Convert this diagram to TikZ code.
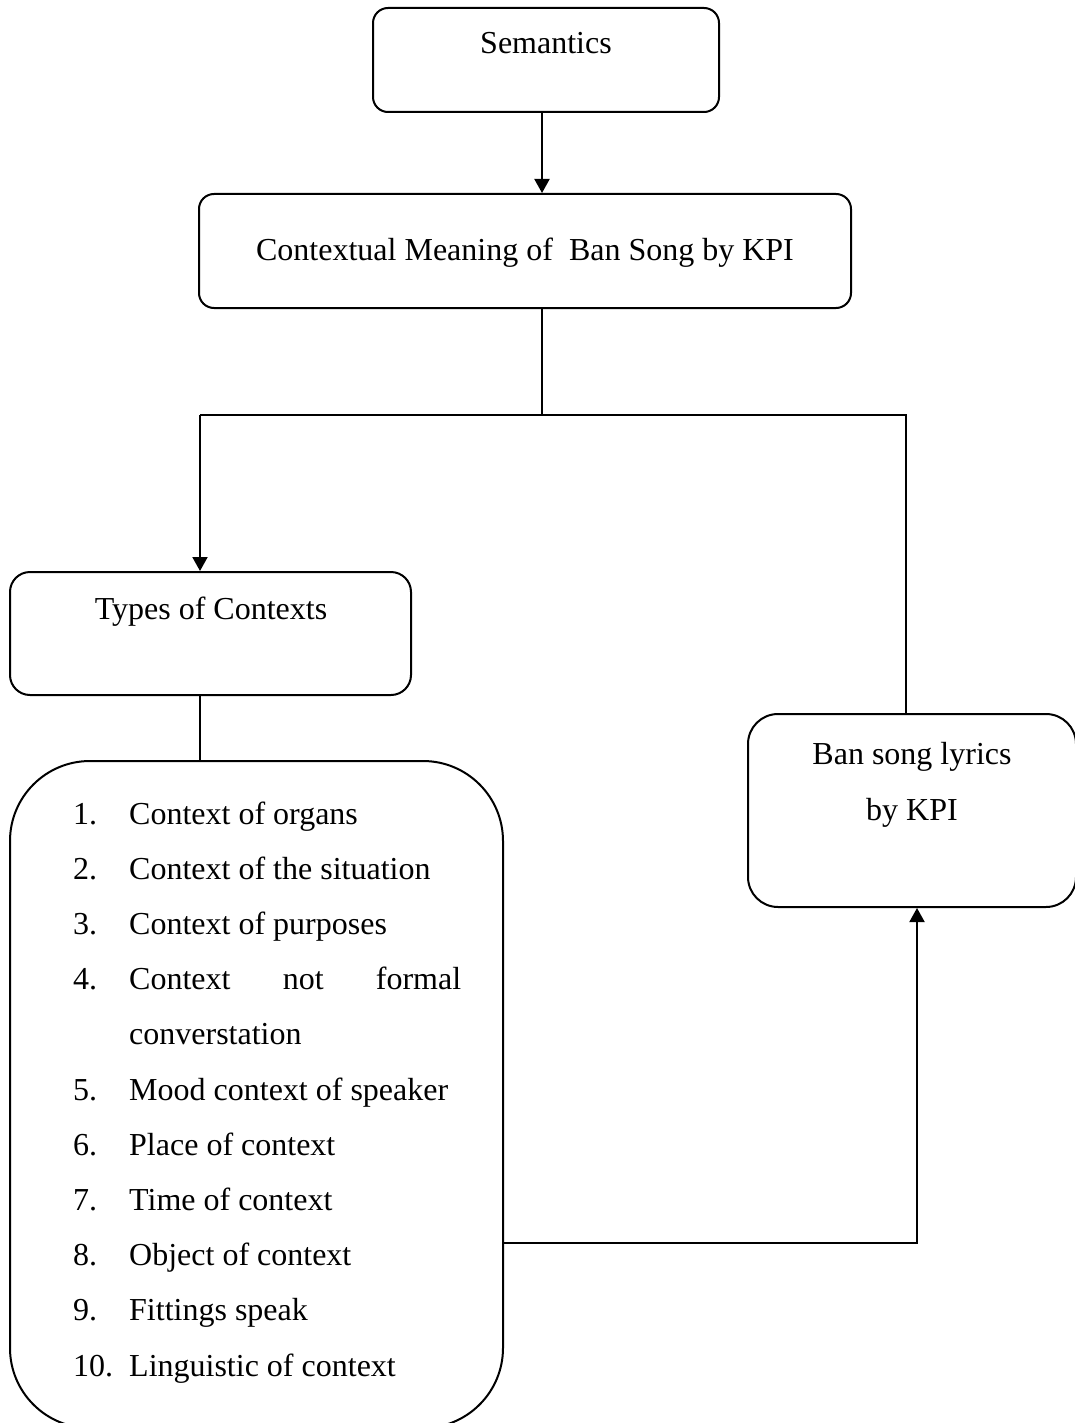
\documentclass[tikz,border=0pt]{standalone}
\usepackage{fontspec}
\setmainfont{Liberation Serif}
\usetikzlibrary{arrows.meta,positioning}
\tikzset{
	box/.style={draw, line width=2pt, rounded corners=#1, inner sep=0pt},
	box/.default=15pt,
	txt/.style={font=\fontsize{32}{38}\selectfont, anchor=base, inner sep=0pt},
	link/.style={line width=2pt},
	arr/.style={line width=2pt, -{Triangle[length=14pt,width=15pt]}}
}

\begin{document}
\begin{tikzpicture}[x=1pt,y=-1pt]
	\useasboundingbox (0,0) rectangle (1075,1423);

	\node[box, minimum width=346pt, minimum height=104pt] (sem) at (546,60) {};
	\node[txt] (semtxt) at (546,54) {Semantics};

	\node[box, minimum width=652pt, minimum height=114pt] (ctx) at (525,251) {};
	\node[txt] (ctxtxt) at (525,261) {Contextual Meaning of\ \ Ban Song by KPI};

	\node[box=20pt, minimum width=401pt, minimum height=123pt] (types) at (210.5,633.5) {};
	\node[txt] (typestxt) at (211,619) {Types of Contexts};

	\node[box=30pt, minimum width=328pt, minimum height=193pt] (ban) at (912,810.5) {};
	\node[txt] (bantxt) at (912,764) {Ban song lyrics};
	\node[txt] (bantxtb) at (912,820) {by KPI};

	\node[box=80pt, minimum width=493pt, minimum height=667pt] (list) at (256.5,1094.5) {};

	\foreach \n/\k/\t in {1/0/Context of organs, 2/1/Context of the situation,
		3/2/Context of purposes, 5/5/Mood context of speaker, 6/6/Place of context,
		7/7/Time of context, 8/8/Object of context, 9/9/Fittings speak,
		10/10/Linguistic of context} {
		\node[txt, anchor=base west] (num\n) at (73,{824+55.2*\k}) {\n.};
		\node[txt, anchor=base west] (item\n) at (129,{824+55.2*\k}) {\t};
	}
	\node[txt, anchor=base west] (num4) at (73,{824+55.2*3}) {4.};
	\node[txt, anchor=base west] (item4) at (129,{824+55.2*3}) {\makebox[332pt][s]{Context\hfill not\hfill formal}};
	\node[txt, anchor=base west] (item4b) at (129,{824+55.2*4}) {converstation};

	% connectors
	\coordinate (split) at (542,415);
	\coordinate (jl) at (200,415);
	\coordinate (jr) at (906,415);
	\coordinate (rb) at (917,1243);

	\draw[arr] (sem.south -| split) -- (ctx.north -| split);
	\draw[link] (ctx.south -| split) -- (split);
	\draw[link] (jl) -- (jr) -- (jr |- ban.north);
	\draw[arr] (jl) -- (jl |- types.north);
	\draw[link] (types.south -| jl) -- (list.north -| jl);
	\draw[arr] (list.east |- rb) -- (rb) -- (rb |- ban.south);
\end{tikzpicture}
\end{document}
